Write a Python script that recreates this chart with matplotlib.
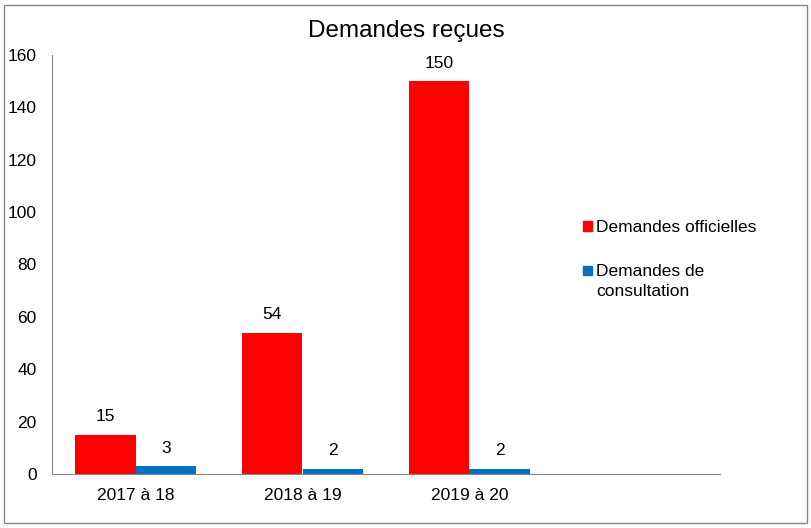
import matplotlib.pyplot as plt
from matplotlib.patches import Rectangle

plt.rcParams['font.family'] = ['Liberation Sans', 'DejaVu Sans']

# data
categories = ["2017 à 18", "2018 à 19", "2019 à 20"]
officielles = [15, 54, 150]
consultation = [3, 2, 2]
series_names = ["Demandes officielles", "Demandes de\nconsultation"]

red = "#ff0000"
blue = "#0070c0"

W, H = 812, 528
fig = plt.figure(figsize=(W / 100, H / 100), dpi=100)
ax = fig.add_axes([52 / W, 54 / H, 668 / W, 419 / H])

x = list(range(len(categories)))
w = 0.362
b1 = ax.bar([i - w / 2 for i in x], officielles, w, color=red)
b2 = ax.bar([i + w / 2 for i in x], consultation, w, color=blue)

for bars, vals in ((b1, officielles), (b2, consultation)):
    for bar, v in zip(bars, vals):
        ax.annotate(str(v), (bar.get_x() + bar.get_width() / 2, v), xytext=(0, 13),
                    textcoords="offset points", ha="center", va="center", fontsize=12.5)

# excel leaves an empty 4th category slot
ax.set_xlim(-0.5, 3.5)
ax.set_ylim(0, 160)
ax.set_yticks(range(0, 161, 20))
ax.set_xticks(x)
ax.set_xticklabels(categories)
ax.tick_params(length=0, labelsize=12.5)
ax.tick_params(axis="x", pad=10)
ax.tick_params(axis="y", pad=11)

for s in ("top", "right"):
    ax.spines[s].set_visible(False)
for s in ("left", "bottom"):
    ax.spines[s].set_color("#888888")

fig.text(406 / W, 1 - 31 / H, "Demandes reçues", ha="center", va="center", fontsize=17.5)

# legend drawn by hand so the square sits on the first line like excel does
for color, label, ytop in ((red, series_names[0], 226), (blue, series_names[1], 270)):
    fig.patches.append(Rectangle((583 / W, 1 - (ytop + 4.5) / H), 9 / W, 9 / H,
                                 transform=fig.transFigure, color=color))
    fig.text(596 / W, 1 - (ytop - 6) / H, label, ha="left", va="top",
             fontsize=12.5, linespacing=1.45)

fig.patches.append(Rectangle((4 / W, 5 / H), 803 / W, 518 / H, transform=fig.transFigure,
                             fill=False, edgecolor="#888888", lw=1))

fig.savefig("out.png", dpi=100)
